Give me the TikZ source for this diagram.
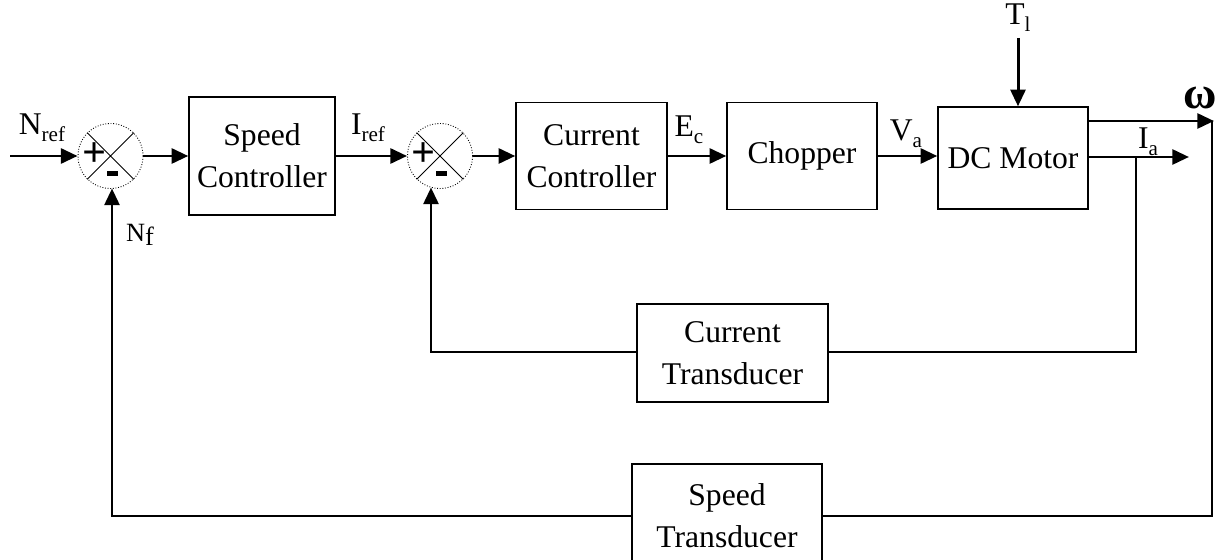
\documentclass[tikz,border=0pt]{standalone}
\usepackage{fontspec}
\setmainfont{Liberation Serif}
\usetikzlibrary{arrows.meta}
\newlength{\pxu}
\setlength{\pxu}{0.02cm}
\begin{document}
\begin{tikzpicture}[x=0.02cm,y=-0.02cm,
  arr/.style={line width=1.7pt,-{Triangle[length=9.5pt,width=8.5pt]}},
  fb/.style={line width=0.8pt},
  blk/.style={draw,line width=0.8pt,align=center,inner sep=0pt,
    font=\fontsize{18}{24}\selectfont},
  sumj/.style={circle,draw,line width=0.5pt,densely dotted,minimum size=65\pxu,inner sep=0pt},
  lbl/.style={font=\fontsize{18}{20}\selectfont,inner sep=0pt},
  plus/.style={font=\fontsize{24}{24}\selectfont\bfseries,inner sep=0pt},
  minus/.style={fill=black,minimum width=11\pxu,minimum height=5\pxu,inner sep=0pt}
]
\clip (0,0) rectangle (1215,560);
\fill[white] (0,0) rectangle (1215,560);

% summing junctions
\node[sumj] (s1) at (110.5,156) {};
\draw[line width=0.5pt] (s1.north west) -- (s1.south east) (s1.north east) -- (s1.south west);
\node[plus] (p1) at (95,155) {+};
\node[minus] (m1) at (112,174) {};
\node[sumj] (s2) at (440,156) {};
\draw[line width=0.5pt] (s2.north west) -- (s2.south east) (s2.north east) -- (s2.south west);
\node[plus] (p2) at (424,155) {+};
\node[minus] (m2) at (441,174) {};

% blocks
\node[blk,minimum width=146\pxu,minimum height=118\pxu] (sc) at (262,156) {Speed\\Controller};
\node[blk,minimum width=151\pxu,minimum height=107\pxu] (cc) at (591.5,156) {Current\\Controller};
\node[blk,minimum width=150\pxu,minimum height=107\pxu] (ch) at (802,156) {Chopper};
\node[blk,minimum width=150\pxu,minimum height=102\pxu] (dcm) at (1013,158) {DC Motor};
\node[blk,minimum width=191\pxu,minimum height=98\pxu] (ct) at (732.5,353) {Current\\Transducer};
\node[blk,minimum width=190\pxu,minimum height=104\pxu] (st) at (727,516) {Speed\\Transducer};

% coordinates
\coordinate (in) at (10,156);
\coordinate (tls) at (1018,38);
\coordinate (wtip) at (1214,121);
\coordinate (wcorner) at (1212,516);
\coordinate (wtop) at (1212,121);
\coordinate (iatip) at (1189,157);
\coordinate (iabr) at (1136,157);
\coordinate (iacorner) at (1136,352);
\coordinate (ctl) at (431,352);
\coordinate (ctth) at (431,315);
\coordinate (s2in) at (431,187.5);
\coordinate (stl) at (112,516);
\coordinate (stth) at (112,315);
\coordinate (s1in) at (112,188.5);

% forward path
\draw[arr] (in) -- (s1.west);
\draw[arr] (s1.east) -- (sc.west);
\draw[arr] (sc.east) -- (s2.west);
\draw[arr] (s2.east) -- (cc.west);
\draw[arr] (cc.east) -- (ch.west);
\draw[arr] (ch.east) -- (dcm.west |- ch.east);
\draw[arr] (tls) -- (tls |- dcm.north);
\draw[arr] (dcm.east |- wtip) -- (wtip);
\draw[arr] (dcm.east |- iatip) -- (iatip);

% feedback paths
\draw[fb] (iabr) -- (iacorner) -- (ct.east |- iacorner);
\draw[fb] (ct.west |- ctl) -- (ctl) -- (ctth);
\draw[arr] (ctth) -- (s2in);
\draw[fb] (wtop) -- (wcorner) -- (st.east |- wcorner);
\draw[fb] (st.west |- stl) -- (stl) -- (stth);
\draw[arr] (stth) -- (s1in);

% labels
\node[lbl] (nref) at (42,128) {N\raisebox{-0.5ex}{\fontsize{12}{12}\selectfont ref}};
\node[lbl] (iref) at (368,128) {I\raisebox{-0.5ex}{\fontsize{12}{12}\selectfont ref}};
\node[lbl] (ec) at (689,130) {E\raisebox{-0.5ex}{\fontsize{12}{12}\selectfont c}};
\node[lbl] (va) at (906,134) {V\raisebox{-0.5ex}{\fontsize{12}{12}\selectfont a}};
\node[lbl] (tl) at (1018,18) {T\raisebox{-0.5ex}{\fontsize{12}{12}\selectfont l}};
\node[lbl,font=\fontsize{26}{26}\selectfont\bfseries] (om) at (1200,98) {ω};
\node[lbl] (ia) at (1148,142) {I\raisebox{-0.5ex}{\fontsize{12}{12}\selectfont a}};
\node[lbl,font=\fontsize{15}{15}\selectfont] (nf) at (140,235) {N\raisebox{-0.3ex}{f}};
\end{tikzpicture}
\end{document}
